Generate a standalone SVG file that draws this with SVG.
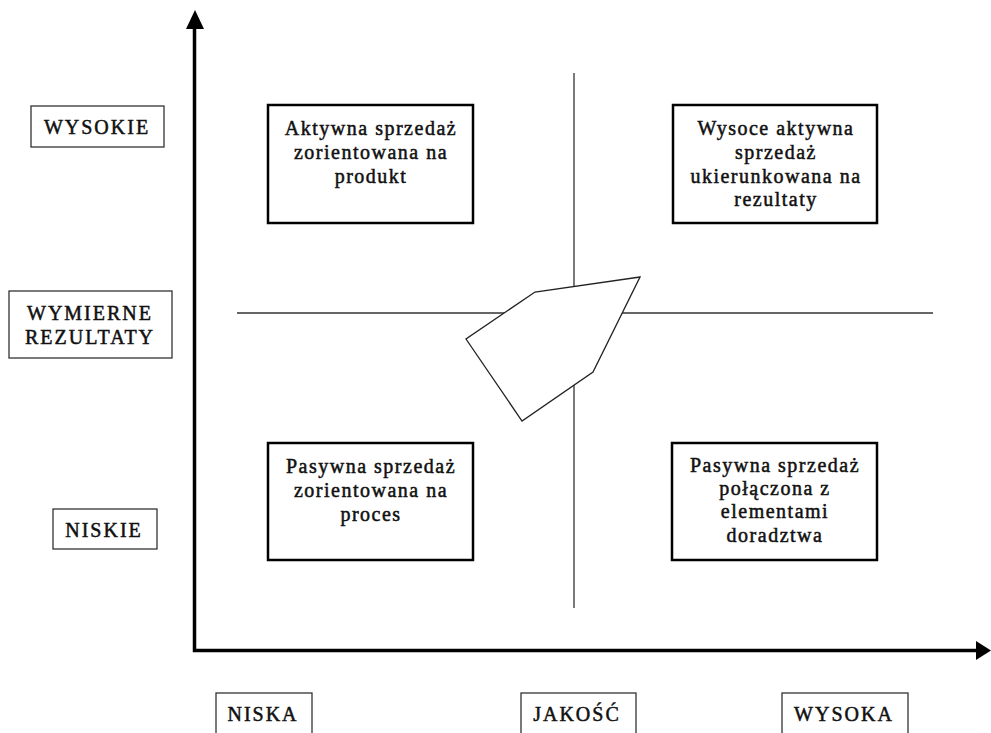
<svg xmlns="http://www.w3.org/2000/svg" width="991" height="733" viewBox="0 0 991 733">
<style>
text{font-family:"Liberation Serif","Times New Roman",serif;font-size:20px;fill:#111;stroke:#111;stroke-width:0.5;text-anchor:middle;letter-spacing:1.5px}
.lbl rect{fill:#fff;stroke:#333;stroke-width:1.3}
.lbl text{letter-spacing:2px}
.q rect{fill:#fff;stroke:#000;stroke-width:2.5}
.axis{stroke:#000;stroke-width:3.5;fill:none}
.grid{stroke:#333;stroke-width:1.3}
</style>
<rect width="991" height="733" fill="#fff"/>
<g id="connectors">
  <line class="grid" x1="574" y1="73" x2="574" y2="608"/>
  <line class="grid" x1="237" y1="313" x2="933" y2="313"/>
  <polyline class="axis" points="194.5,26 194.5,650.5 980,650.5"/>
  <polygon points="195,10 186,29 204,29" fill="#000"/>
  <polygon points="991,650.5 976,641 976,660" fill="#000"/>
</g>
<g id="arrow-shape">
  <polygon points="640,277 535,292 466,339 522,421 593,372" fill="#fff" stroke="#222" stroke-width="1.3"/>
</g>
<g id="wysokie" class="lbl"><rect x="31" y="106" width="133" height="41"/><text x="97" y="134">WYSOKIE</text></g>
<g id="wymierne" class="lbl"><rect x="9" y="291" width="163" height="67"/><text x="90" y="320">WYMIERNE</text><text x="90" y="344">REZULTATY</text></g>
<g id="niskie" class="lbl"><rect x="53" y="509" width="104" height="40"/><text x="104" y="537">NISKIE</text></g>
<g id="niska" class="lbl"><rect x="216" y="693" width="96" height="50"/><text x="263" y="721">NISKA</text></g>
<g id="jakosc" class="lbl"><rect x="521" y="693" width="115" height="50"/><text x="577" y="721">JAKOŚĆ</text></g>
<g id="wysoka" class="lbl"><rect x="782" y="693" width="126" height="50"/><text x="844" y="721">WYSOKA</text></g>
<g id="q1" class="q"><rect x="268" y="105" width="205" height="118"/><text x="371" y="135">Aktywna sprzedaż</text><text x="371" y="159">zorientowana na</text><text x="371" y="183">produkt</text></g>
<g id="q2" class="q"><rect x="673" y="105" width="204" height="118"/><text x="776" y="135">Wysoce aktywna</text><text x="776" y="159">sprzedaż</text><text x="776" y="183">ukierunkowana na</text><text x="776" y="206">rezultaty</text></g>
<g id="q3" class="q"><rect x="268" y="443" width="205" height="117"/><text x="371" y="473">Pasywna sprzedaż</text><text x="371" y="497">zorientowana na</text><text x="371" y="521">proces</text></g>
<g id="q4" class="q"><rect x="672" y="443" width="205" height="117"/><text x="775" y="472">Pasywna sprzedaż</text><text x="775" y="495">połączona z</text><text x="775" y="518">elementami</text><text x="775" y="542">doradztwa</text></g>
</svg>
